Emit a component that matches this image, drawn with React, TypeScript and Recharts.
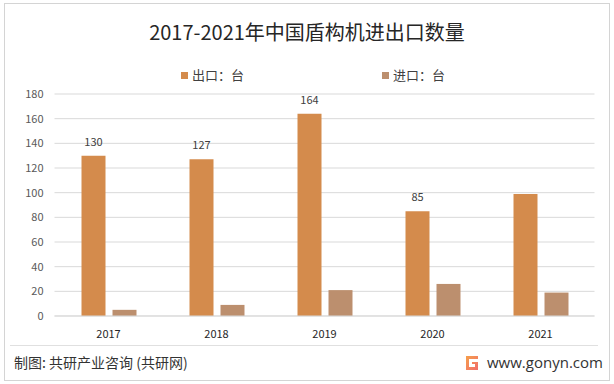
import React from "react";
import { BarChart, Bar, XAxis, YAxis, CartesianGrid, Legend, LabelList } from "recharts";

const years = ["2017", "2018", "2019", "2020", "2021"];
const exportValues = [130, 127, 164, 85, 99];
const importValues = [5, 9, 21, 26, 19];
const showExportLabel = [true, true, true, true, false];
const yTicks = [0, 20, 40, 60, 80, 100, 120, 140, 160, 180];

const EXPORT_COLOR = "#D48B4C";
const IMPORT_COLOR = "#BC8F6E";
const FONT = "'Noto Sans CJK SC', 'Noto Sans', sans-serif";

const data = years.map((y, i) => ({
  year: y,
  export: exportValues[i],
  import: importValues[i],
}));

const legendPos = [181, 382];

const renderLegend = (props: any) => {
  const { payload } = props;
  return (
    <div style={{ position: "relative", width: 614, height: 16 }}>
      {(payload || []).map((entry: any, i: number) => (
        <div
          key={i}
          style={{
            position: "absolute",
            left: legendPos[i],
            top: 0,
            display: "flex",
            alignItems: "center",
            fontSize: 13,
            color: "#404040",
            fontFamily: FONT,
            lineHeight: "16px",
          }}
        >
          <span style={{ display: "inline-block", width: 7, height: 7, background: entry.color, marginRight: 4 }} />
          <span>{entry.value}</span>
        </div>
      ))}
    </div>
  );
};

const renderExportLabel = (props: any) => {
  const { x, y, width, value, index } = props;
  if (!showExportLabel[index]) return null;
  return (
    <text x={x + width / 2} y={y - 10} textAnchor="middle" fontSize={11} fill="#404040" fontFamily={FONT}>
      {value}
    </text>
  );
};

export default function App() {
  return (
    <div
      style={{
        position: "absolute",
        left: 0,
        top: 0,
        width: 614,
        height: 384,
        background: "#fff",
        fontFamily: FONT,
        overflow: "hidden",
      }}
    >
      <div
        style={{
          position: "absolute",
          left: 4,
          top: 3,
          width: 604,
          height: 376,
          border: "1px solid #d4d4d4",
        }}
      />
      <div
        style={{
          position: "absolute",
          left: 0,
          top: 19,
          width: 614,
          textAlign: "center",
          fontSize: 20,
          lineHeight: "26px",
          color: "#262626",
        }}
      >
        2017-2021年中国盾构机进出口数量
      </div>
      <div style={{ position: "absolute", left: 0, top: 0 }}>
        <BarChart
          width={614}
          height={384}
          data={data}
          margin={{ top: 78, right: 19.5, bottom: 38, left: 0 }}
          barSize={24}
          barGap={7}
        >
          <CartesianGrid vertical={false} stroke="#d9d9d9" strokeWidth={1} />
          <XAxis
            dataKey="year"
            axisLine={{ stroke: "#d9d9d9" }}
            tickLine={false}
            tickSize={0}
            tickMargin={14}
            height={30}
            tick={{ fontSize: 11, fill: "#262626", fontFamily: FONT }}
          />
          <YAxis
            width={54.5}
            domain={[0, 180]}
            ticks={yTicks}
            axisLine={false}
            tickLine={false}
            tickSize={0}
            tickMargin={11}
            tick={{ fontSize: 11, fill: "#595959", fontFamily: FONT }}
          />
          <Legend
            verticalAlign="top"
            content={renderLegend}
            wrapperStyle={{ position: "absolute", top: 67, left: 0, width: 614 }}
          />
          <Bar dataKey="export" name="出口：台" fill={EXPORT_COLOR} isAnimationActive={false}>
            <LabelList dataKey="export" content={renderExportLabel} />
          </Bar>
          <Bar dataKey="import" name="进口：台" fill={IMPORT_COLOR} isAnimationActive={false} />
        </BarChart>
      </div>
      <div
        style={{
          position: "absolute",
          left: 10,
          top: 345,
          width: 588,
          height: 1,
          background: "#e0e0e0",
        }}
      />
      <div
        style={{
          position: "absolute",
          left: 14,
          top: 353,
          fontSize: 14,
          lineHeight: "18px",
          color: "#333",
          whiteSpace: "nowrap",
        }}
      >
        制图: 共研产业咨询 (共研网)
      </div>
      <svg style={{ position: "absolute", left: 464, top: 355 }} width={16} height={16} viewBox="0 0 16 16">
        <defs>
          <linearGradient id="lg" x1="0" y1="0" x2="1" y2="1">
            <stop offset="0" stopColor="#F5A04A" />
            <stop offset="1" stopColor="#F26D6D" />
          </linearGradient>
        </defs>
        <path d="M2 1 H14 V4 H5 V12 H11 V9 H8 V7 H14 V15 H2 Z" fill="url(#lg)" />
      </svg>
      <div
        style={{
          position: "absolute",
          left: 487,
          top: 352,
          fontSize: 15,
          lineHeight: "20px",
          color: "#333",
          whiteSpace: "nowrap",
          fontFamily: "'Open Sans', 'Noto Sans', sans-serif",
        }}
      >
        www.gonyn.com
      </div>
    </div>
  );
}
